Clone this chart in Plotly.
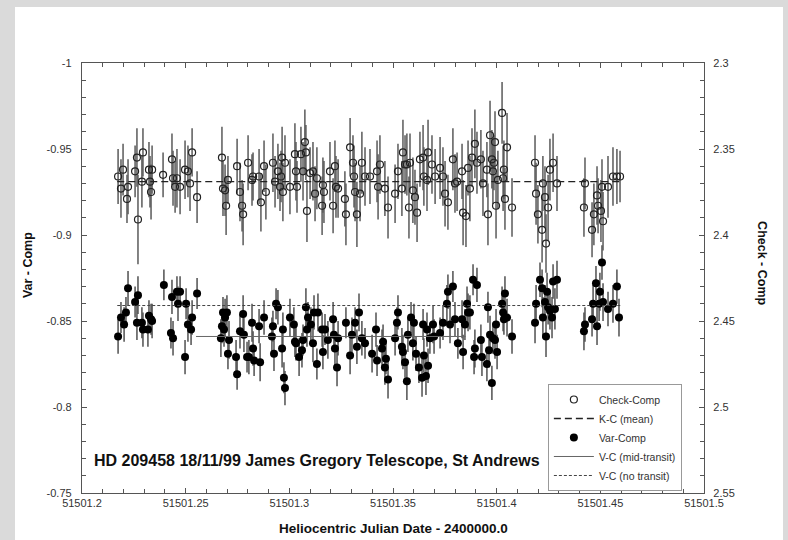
import plotly.graph_objects as go

# ---------------- data ----------------
HJD_TICKS = [51501.2, 51501.25, 51501.3, 51501.35, 51501.4, 51501.45, 51501.5]
HJD_LABELS = ["51501.2", "51501.25", "51501.3", "51501.35", "51501.4", "51501.45", "51501.5"]
VAR_TICKS = [-1, -0.95, -0.9, -0.85, -0.8, -0.75]
VAR_LABELS = ["-1", "-0.95", "-0.9", "-0.85", "-0.8", "-0.75"]
CHK_TICKS = [2.3, 2.35, 2.4, 2.45, 2.5, 2.55]
CHK_LABELS = ["2.3", "2.35", "2.4", "2.45", "2.5", "2.55"]

# Check - Comp (open circles, right axis)
chk_t = [
    51501.2174, 51501.2188, 51501.2198, 51501.2217, 51501.2222, 51501.2256, 51501.2265, 51501.2270, 51501.2289, 51501.2294,
    51501.2323, 51501.2328, 51501.2338, 51501.2333, 51501.2391, 51501.2434, 51501.2439, 51501.2458, 51501.2449, 51501.2473,
    51501.2497, 51501.2511, 51501.2521, 51501.2531, 51501.2555,
    51501.2675, 51501.2680, 51501.2690, 51501.2695, 51501.2704, 51501.2748, 51501.2762, 51501.2772, 51501.2777, 51501.2801,
    51501.2820, 51501.2825, 51501.2854, 51501.2863, 51501.2878, 51501.2887, 51501.2921, 51501.2931, 51501.2945, 51501.2955,
    51501.2965, 51501.2979, 51501.2960, 51501.2969,
    51501.3003, 51501.3027, 51501.3032, 51501.3037, 51501.3056, 51501.3066, 51501.3075, 51501.3080, 51501.3085, 51501.3100,
    51501.3114, 51501.3124, 51501.3133, 51501.3158, 51501.3162, 51501.3167, 51501.3196, 51501.3211, 51501.3220, 51501.3225,
    51501.3235, 51501.3268, 51501.3273, 51501.3293, 51501.3307, 51501.3312, 51501.3317, 51501.3326, 51501.3341, 51501.3350,
    51501.3365, 51501.3389, 51501.3423, 51501.3437, 51501.3428, 51501.3461, 51501.3476, 51501.3510, 51501.3524, 51501.3548,
    51501.3558, 51501.3567, 51501.3543, 51501.3582, 51501.3596, 51501.3606, 51501.3577, 51501.3616, 51501.3630, 51501.3645,
    51501.3649, 51501.3664, 51501.3669, 51501.3688, 51501.3703, 51501.3727, 51501.3741, 51501.3751, 51501.3765, 51501.3789,
    51501.3799, 51501.3833, 51501.3838, 51501.3809, 51501.3852, 51501.3862, 51501.3871, 51501.3881, 51501.3895, 51501.3905,
    51501.3924, 51501.3934, 51501.3953, 51501.3958, 51501.3968, 51501.3977, 51501.3982, 51501.3992, 51501.3987, 51501.3997,
    51501.4006, 51501.4026, 51501.4031, 51501.4035, 51501.4040, 51501.4050, 51501.4074,
    51501.4185, 51501.4190, 51501.4199, 51501.4219, 51501.4223, 51501.4233, 51501.4238, 51501.4248, 51501.4257, 51501.4272,
    51501.4291,
    51501.4426, 51501.4421, 51501.4460, 51501.4469, 51501.4484, 51501.4489, 51501.4503, 51501.4513, 51501.4508, 51501.4537,
    51501.4561, 51501.4580, 51501.4595,
]
chk_v = [
    2.366, 2.373, 2.362, 2.379, 2.372, 2.363, 2.355, 2.391, 2.369, 2.352,
    2.362, 2.369, 2.362, 2.375, 2.365, 2.356, 2.367, 2.367, 2.372, 2.372,
    2.362, 2.363, 2.370, 2.352, 2.378,
    2.355, 2.373, 2.374, 2.383, 2.368, 2.360, 2.375, 2.383, 2.388, 2.358,
    2.368, 2.366, 2.366, 2.381, 2.360, 2.375, 2.358, 2.369, 2.363, 2.372,
    2.355, 2.358, 2.366, 2.375,
    2.372, 2.353, 2.363, 2.372, 2.353, 2.363, 2.346, 2.352, 2.386, 2.364,
    2.363, 2.376, 2.367, 2.383, 2.371, 2.375, 2.363, 2.383, 2.360, 2.372,
    2.373, 2.379, 2.388, 2.349, 2.358, 2.366, 2.375, 2.388, 2.376, 2.358,
    2.366, 2.366, 2.363, 2.359, 2.372, 2.373, 2.384, 2.376, 2.363, 2.352,
    2.359, 2.359, 2.373, 2.358, 2.374, 2.378, 2.384, 2.387, 2.356, 2.355,
    2.366, 2.368, 2.352, 2.359, 2.366, 2.361, 2.366, 2.376, 2.381, 2.356,
    2.370, 2.363, 2.387, 2.369, 2.389, 2.361, 2.373, 2.355, 2.347, 2.358,
    2.356, 2.370, 2.362, 2.388, 2.342, 2.356, 2.363, 2.346, 2.358, 2.383,
    2.368, 2.329, 2.367, 2.362, 2.379, 2.349, 2.384,
    2.358, 2.376, 2.388, 2.397, 2.370, 2.378, 2.405, 2.384, 2.362, 2.358,
    2.370,
    2.370, 2.384, 2.397, 2.388, 2.377, 2.383, 2.386, 2.392, 2.372, 2.372,
    2.366, 2.366, 2.366,
]
chk_err = [
    0.016, 0.017, 0.015, 0.014, 0.016, 0.015, 0.017, 0.026, 0.015, 0.014,
    0.016, 0.015, 0.014, 0.016, 0.013, 0.015, 0.016, 0.017, 0.015, 0.016,
    0.017, 0.015, 0.016, 0.014, 0.015,
    0.018, 0.016, 0.015, 0.017, 0.014, 0.016, 0.017, 0.015, 0.018, 0.016,
    0.015, 0.014, 0.016, 0.017, 0.015, 0.016, 0.017, 0.015, 0.016, 0.014,
    0.018, 0.016, 0.015, 0.017,
    0.016, 0.018, 0.017, 0.015, 0.016, 0.017, 0.019, 0.016, 0.018, 0.015,
    0.017, 0.016, 0.018, 0.017, 0.016, 0.018, 0.017, 0.016, 0.015, 0.018,
    0.017, 0.016, 0.018, 0.017, 0.016, 0.018, 0.017, 0.019, 0.016, 0.018,
    0.017, 0.016, 0.018, 0.017, 0.019, 0.016, 0.018, 0.017, 0.016, 0.019,
    0.017, 0.018, 0.016, 0.017, 0.019, 0.016, 0.018, 0.017, 0.016, 0.019,
    0.017, 0.018, 0.019, 0.017, 0.016, 0.018, 0.017, 0.019, 0.016, 0.018,
    0.017, 0.016, 0.019, 0.017, 0.018, 0.016, 0.019, 0.017, 0.020, 0.018,
    0.017, 0.019, 0.016, 0.018, 0.020, 0.017, 0.019, 0.018, 0.016, 0.019,
    0.017, 0.018, 0.019, 0.017, 0.018, 0.020, 0.017,
    0.016, 0.018, 0.017, 0.019, 0.016, 0.018, 0.017, 0.019, 0.018, 0.017,
    0.016,
    0.015, 0.017, 0.016, 0.018, 0.017, 0.016, 0.018, 0.017, 0.016, 0.018,
    0.017, 0.016, 0.015,
]

# Var - Comp (filled circles, left axis)
var_t = [
    51501.2174, 51501.2188, 51501.2203, 51501.2212, 51501.2222, 51501.2256, 51501.2265, 51501.2270, 51501.2289, 51501.2294,
    51501.2323, 51501.2318, 51501.2333, 51501.2338, 51501.2395, 51501.2434, 51501.2429, 51501.2439, 51501.2458, 51501.2463,
    51501.2473, 51501.2497, 51501.2502, 51501.2511, 51501.2526, 51501.2531, 51501.2555,
    51501.2675, 51501.2670, 51501.2680, 51501.2685, 51501.2690, 51501.2699, 51501.2704, 51501.2709, 51501.2743, 51501.2748,
    51501.2762, 51501.2777, 51501.2781, 51501.2796, 51501.2805, 51501.2820, 51501.2825, 51501.2830, 51501.2854, 51501.2859,
    51501.2878, 51501.2921, 51501.2916, 51501.2926, 51501.2936, 51501.2945, 51501.2965, 51501.2969, 51501.2974, 51501.2979,
    51501.3003, 51501.3022, 51501.3027, 51501.3032, 51501.3047, 51501.3061, 51501.3066, 51501.3080, 51501.3085, 51501.3090,
    51501.3104, 51501.3114, 51501.3119, 51501.3133, 51501.3138, 51501.3158, 51501.3162, 51501.3172, 51501.3186, 51501.3211,
    51501.3215, 51501.3220, 51501.3230, 51501.3235, 51501.3273, 51501.3293, 51501.3302, 51501.3317, 51501.3326, 51501.3336,
    51501.3350, 51501.3365, 51501.3399, 51501.3418, 51501.3423, 51501.3452, 51501.3447, 51501.3461, 51501.3466, 51501.3476,
    51501.3510, 51501.3519, 51501.3524, 51501.3543, 51501.3548, 51501.3558, 51501.3567, 51501.3572, 51501.3587, 51501.3596,
    51501.3601, 51501.3611, 51501.3625, 51501.3640, 51501.3649, 51501.3645, 51501.3664, 51501.3659, 51501.3669, 51501.3678,
    51501.3693, 51501.3698, 51501.3727, 51501.3741, 51501.3760, 51501.3765, 51501.3789, 51501.3775, 51501.3799, 51501.3813,
    51501.3838, 51501.3833, 51501.3857, 51501.3847, 51501.3862, 51501.3871, 51501.3886, 51501.3905, 51501.3895, 51501.3891,
    51501.3924, 51501.3929, 51501.3953, 51501.3958, 51501.3963, 51501.3968, 51501.3977, 51501.3982, 51501.3992, 51501.4002,
    51501.3997, 51501.4026, 51501.4031, 51501.4040, 51501.4035, 51501.4050, 51501.4074,
    51501.4190, 51501.4185, 51501.4209, 51501.4219, 51501.4223, 51501.4233, 51501.4243, 51501.4238, 51501.4248, 51501.4257,
    51501.4267, 51501.4272, 51501.4291, 51501.4281,
    51501.4426, 51501.4421, 51501.4460, 51501.4465, 51501.4479, 51501.4484, 51501.4494, 51501.4498, 51501.4508, 51501.4513,
    51501.4537, 51501.4561, 51501.4580, 51501.4590,
]
var_v = [
    -0.841, -0.852, -0.848, -0.855, -0.869, -0.861, -0.849, -0.865, -0.849, -0.845,
    -0.853, -0.845, -0.851, -0.850, -0.871, -0.864, -0.843, -0.840, -0.867, -0.860,
    -0.867, -0.829, -0.860, -0.848, -0.845, -0.852, -0.866,
    -0.847, -0.840, -0.855, -0.845, -0.852, -0.855, -0.831, -0.839, -0.829, -0.819,
    -0.844, -0.854, -0.842, -0.829, -0.829, -0.849, -0.834, -0.827, -0.847, -0.826,
    -0.852, -0.847, -0.841, -0.831, -0.860, -0.858, -0.834, -0.845, -0.817, -0.811,
    -0.852, -0.848, -0.838, -0.837, -0.829, -0.833, -0.839, -0.858, -0.845, -0.852,
    -0.848, -0.837, -0.855, -0.825, -0.855, -0.845, -0.832, -0.845, -0.839, -0.851,
    -0.842, -0.834, -0.823, -0.840, -0.849, -0.830, -0.842, -0.849, -0.835, -0.855,
    -0.840, -0.837, -0.831, -0.845, -0.827, -0.838, -0.834, -0.823, -0.828, -0.816,
    -0.840, -0.849, -0.855, -0.835, -0.832, -0.826, -0.815, -0.842, -0.852, -0.837,
    -0.849, -0.831, -0.823, -0.817, -0.830, -0.848, -0.845, -0.818, -0.824, -0.840,
    -0.848, -0.841, -0.843, -0.849, -0.860, -0.867, -0.870, -0.848, -0.851, -0.837,
    -0.832, -0.851, -0.860, -0.848, -0.855, -0.855, -0.874, -0.871, -0.834, -0.829,
    -0.839, -0.829, -0.825, -0.858, -0.833, -0.842, -0.814, -0.840, -0.839, -0.832,
    -0.848, -0.860, -0.855, -0.866, -0.851, -0.852, -0.841,
    -0.860, -0.849, -0.874, -0.869, -0.852, -0.861, -0.867, -0.841, -0.858, -0.856,
    -0.852, -0.873, -0.874, -0.857,
    -0.848, -0.844, -0.851, -0.860, -0.872, -0.847, -0.860, -0.867, -0.884, -0.861,
    -0.857, -0.860, -0.870, -0.852,
]
var_err = [
    0.010, 0.009, 0.010, 0.009, 0.010, 0.009, 0.010, 0.011, 0.009, 0.010,
    0.009, 0.010, 0.009, 0.010, 0.009, 0.010, 0.009, 0.010, 0.009, 0.010,
    0.009, 0.010, 0.009, 0.010, 0.009, 0.010, 0.009,
    0.010, 0.011, 0.009, 0.010, 0.011, 0.010, 0.009, 0.011, 0.010, 0.009,
    0.010, 0.011, 0.010, 0.009, 0.010, 0.011, 0.010, 0.009, 0.010, 0.011,
    0.010, 0.009, 0.011, 0.010, 0.009, 0.010, 0.011, 0.010, 0.009, 0.010,
    0.011, 0.010, 0.009, 0.010, 0.011, 0.010, 0.009, 0.011, 0.010, 0.009,
    0.010, 0.011, 0.010, 0.009, 0.011, 0.010, 0.010, 0.009, 0.011, 0.010,
    0.009, 0.010, 0.011, 0.010, 0.009, 0.011, 0.010, 0.009, 0.010, 0.011,
    0.010, 0.009, 0.011, 0.010, 0.009, 0.010, 0.011, 0.010, 0.009, 0.011,
    0.010, 0.009, 0.010, 0.011, 0.010, 0.009, 0.011, 0.010, 0.009, 0.010,
    0.011, 0.010, 0.009, 0.011, 0.010, 0.009, 0.010, 0.011, 0.010, 0.009,
    0.011, 0.010, 0.009, 0.010, 0.011, 0.010, 0.009, 0.011, 0.010, 0.009,
    0.010, 0.011, 0.010, 0.009, 0.011, 0.010, 0.009, 0.010, 0.011, 0.010,
    0.009, 0.011, 0.010, 0.009, 0.010, 0.011, 0.010, 0.009, 0.011, 0.010,
    0.009, 0.010, 0.011, 0.010, 0.009, 0.011, 0.010,
    0.011, 0.012, 0.010, 0.011, 0.012, 0.010, 0.011, 0.012, 0.010, 0.011,
    0.012, 0.010, 0.011, 0.012,
    0.010, 0.011, 0.010, 0.011, 0.010, 0.011, 0.010, 0.011, 0.010, 0.011,
    0.010, 0.011, 0.010, 0.011,
]

# reference levels
KC_MEAN = 2.369
KC_SPAN = [51501.217, 51501.46]
VC_MID = -0.841
VC_MID_SPAN = [51501.255, 51501.385]
VC_NONE = -0.859
VC_NONE_SPAN = [51501.217, 51501.46]

CAPTION = "HD 209458 18/11/99 James Gregory Telescope, St Andrews"

# ---------------- figure ----------------
FONT = "Liberation Sans, Arial, Helvetica, sans-serif"
AXC = "#555555"
BG = "#dadada"
fig = go.Figure()

fig.add_trace(go.Scatter(
    x=chk_t, y=chk_v, yaxis="y2", mode="markers", name="Check-Comp",
    marker=dict(symbol="circle-open", size=7, color="#222222", line=dict(width=1.2)),
    error_y=dict(type="data", array=chk_err, visible=True, color="#5a5a5a", thickness=1.5, width=0),
))
fig.add_trace(go.Scatter(
    x=KC_SPAN, y=[KC_MEAN, KC_MEAN], yaxis="y2", mode="lines", name="K-C (mean)",
    line=dict(color="#222222", width=1.3, dash="7px,4px"),
))
fig.add_trace(go.Scatter(
    x=var_t, y=var_v, mode="markers", name="Var-Comp",
    marker=dict(symbol="circle", size=8, color="#000000"),
    error_y=dict(type="data", array=var_err, visible=True, color="#505050", thickness=1.5, width=0),
))
fig.add_trace(go.Scatter(
    x=VC_MID_SPAN, y=[VC_MID, VC_MID], mode="lines", name="V-C (mid-transit)",
    line=dict(color="#666666", width=1),
))
fig.add_trace(go.Scatter(
    x=VC_NONE_SPAN, y=[VC_NONE, VC_NONE], mode="lines", name="V-C (no transit)",
    line=dict(color="#444444", width=1, dash="3px,2px"),
))

tickfont = dict(family=FONT, size=11, color="#333333")
fig.update_layout(
    width=788, height=540,
    margin=dict(l=82, r=84, t=63, b=47),
    paper_bgcolor=BG, plot_bgcolor="white",
    font=dict(family=FONT, color="#222222"),
    showlegend=True,
    legend=dict(
        x=0.749, y=0.2535, xanchor="left", yanchor="top",
        bgcolor="white", bordercolor="#999999", borderwidth=1,
        font=dict(family=FONT, size=10.5, color="#333333"),
        itemwidth=40,
    ),
    xaxis=dict(
        range=[51501.2, 51501.5], tickvals=HJD_TICKS, ticktext=HJD_LABELS,
        showgrid=False, zeroline=False, showline=True, linecolor=AXC, linewidth=1.3,
        mirror="ticks", ticks="inside", ticklen=5, tickcolor=AXC, tickfont=tickfont,
        minor=dict(dtick=0.01, ticks="inside", ticklen=4, tickcolor=AXC, showgrid=False),
    ),
    yaxis=dict(
        range=[-0.75, -1.0], tickvals=VAR_TICKS, ticktext=VAR_LABELS,
        showgrid=False, zeroline=False, showline=True, linecolor=AXC, linewidth=1.3,
        ticks="inside", ticklen=5, tickcolor=AXC, tickfont=tickfont, ticklabelstandoff=7,
        minor=dict(dtick=0.01, ticks="inside", ticklen=4, tickcolor=AXC, showgrid=False),
    ),
    yaxis2=dict(
        range=[2.55, 2.3], tickvals=CHK_TICKS, ticktext=CHK_LABELS,
        overlaying="y", side="right",
        showgrid=False, zeroline=False, showline=True, linecolor=AXC, linewidth=1.3,
        ticks="inside", ticklen=5, tickcolor=AXC, tickfont=tickfont, ticklabelstandoff=6,
        minor=dict(dtick=0.01, ticks="inside", ticklen=4, tickcolor=AXC, showgrid=False),
    ),
    shapes=[dict(
        type="rect", xref="paper", yref="paper",
        x0=-0.1077, x1=1.127, y0=-0.12, y1=1.1302,
        fillcolor="white", line=dict(width=0), layer="below",
    )],
    annotations=[
        dict(text="<b>Var - Comp</b>", xref="paper", yref="paper", x=-0.0868, y=0.530,
             xanchor="center", yanchor="middle",
             textangle=-90, showarrow=False, font=dict(family=FONT, size=12.5, color="#111111")),
        dict(text="<b>Check - Comp</b>", xref="paper", yref="paper", x=1.093, y=0.535,
             xanchor="center", yanchor="middle",
             textangle=90, showarrow=False, font=dict(family=FONT, size=12.5, color="#111111")),
        dict(text="<b>Heliocentric Julian Date - 2400000.0</b>", xref="paper", yref="paper",
             x=0.5016, y=-0.0814, xanchor="center", yanchor="middle",
             showarrow=False, font=dict(family=FONT, size=13.5, color="#111111")),
        dict(text="<b>" + CAPTION + "</b>", xref="paper", yref="paper", x=0.0161, y=0.0767,
             xanchor="left", yanchor="middle",
             showarrow=False, font=dict(family=FONT, size=16, color="#111111")),
    ],
)

fig.write_html(
    "out.html",
    config={"displayModeBar": False},
    post_script="document.body.style.margin='0px';document.body.style.background='" + BG + "';",
)
